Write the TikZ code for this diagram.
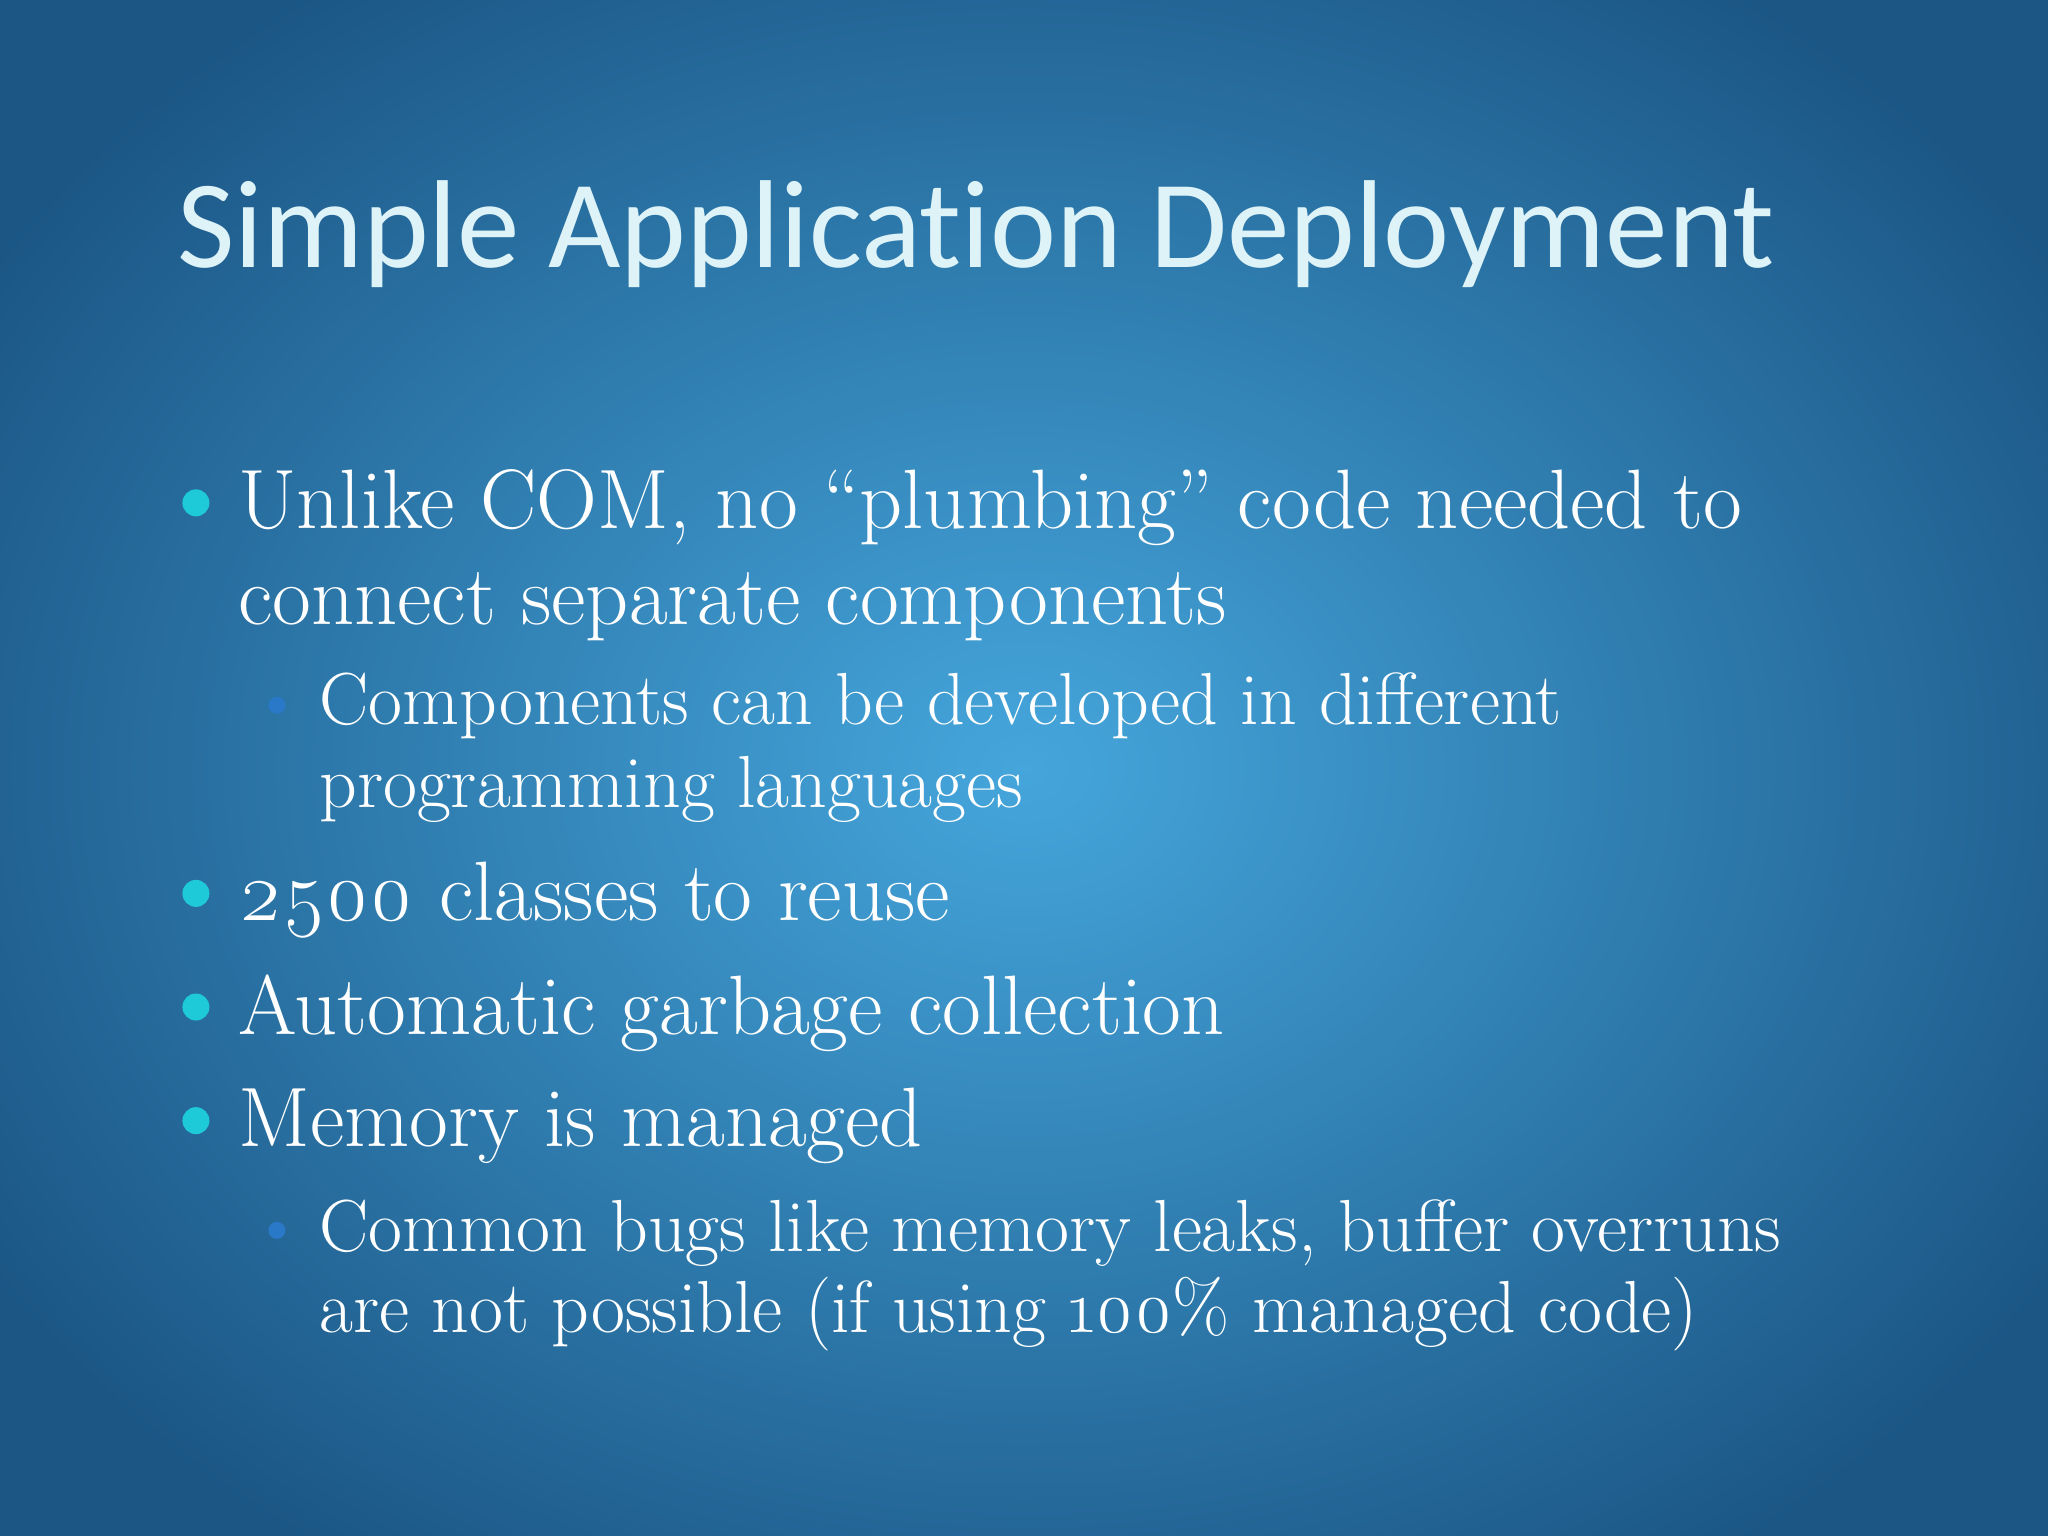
\documentclass[tikz,border=0pt]{standalone}
\usepackage{fontspec}
\newfontfamily\titlefont[Ligatures=NoCommon]{Carlito}
\setmainfont{Latin Modern Roman}
\definecolor{bgin}{HTML}{45A6DC}
\definecolor{bgout}{HTML}{1B5685}
\definecolor{titlec}{HTML}{DDF3F8}
\definecolor{bul}{HTML}{1FCAD8}
\definecolor{subbul}{HTML}{2A78C8}
\begin{document}
\begin{tikzpicture}[x=0.01306cm,y=-0.01306cm,
  lvla/.style={anchor=base west,inner sep=0,text=white,font=\fontsize{24}{28}\selectfont},
  lvlb/.style={anchor=base west,inner sep=0,text=white,font=\fontsize{21}{24}\selectfont},
  dota/.style={circle,fill=bul,inner sep=0,minimum size=0.27cm},
  dotb/.style={circle,fill=subbul,inner sep=0,minimum size=0.17cm}]
\useasboundingbox (0,0) rectangle (1568,1176);
\shade[inner color=bgin,outer color=bgout] (-150,-150) rectangle (1718,1326);
\node[anchor=base west,inner sep=0,text=titlec,font=\titlefont\fontsize{35.6}{42}\selectfont] (title) at (135,205) {Simple Application Deployment};
\node[dota] (d1) at (150,385) {};
\node[lvla] (t1) at (182,405) {Unlike COM, no “plumbing” code needed to};
\node[lvla] (t1b) at (182,478) {connect separate components};
\node[dotb] (s1) at (212,540) {};
\node[lvlb] (u1) at (244,555) {Components can be developed in different};
\node[lvlb] (u1b) at (244,618) {programming languages};
\node[dota] (d2) at (150,684) {};
\node[lvla] (t2) at (182,705) {\oldstylenums{2500} classes to reuse};
\node[dota] (d3) at (150,771) {};
\node[lvla] (t3) at (182,792) {Automatic garbage collection};
\node[dota] (d4) at (150,858) {};
\node[lvla] (t4) at (182,878) {Memory is managed};
\node[dotb] (s2) at (212,942) {};
\node[lvlb] (u2) at (244,958) {Common bugs like memory leaks, buffer overruns};
\node[lvlb] (u2b) at (244,1020) {are not possible (if using \oldstylenums{100}\% managed code)};
\end{tikzpicture}
\end{document}
